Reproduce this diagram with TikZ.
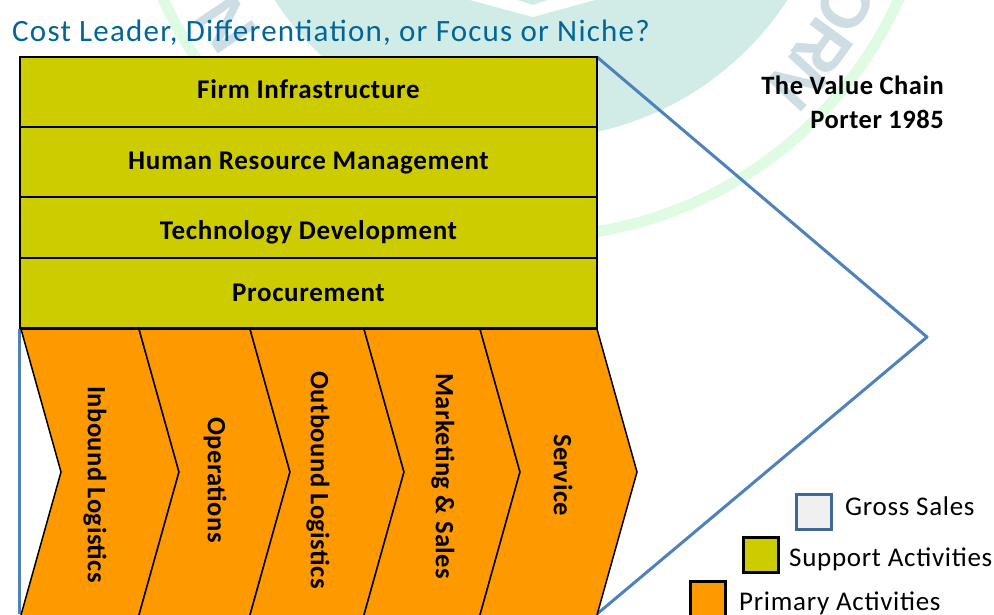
\documentclass[tikz,border=0pt]{standalone}
\usepackage{fontspec}
\setmainfont{Carlito}
\newfontfamily\wmfont{Liberation Sans}
\newfontfamily\rowfont[LetterSpace=2.5]{Carlito}
\newfontfamily\titlefont[LetterSpace=4]{Carlito}
\newfontfamily\legfont[LetterSpace=2.6]{Carlito}
\newfontfamily\chevfont[LetterSpace=1.8]{Carlito}
\newfontfamily\notefont[LetterSpace=2]{Carlito}
\definecolor{supportc}{HTML}{CCCC00}
\definecolor{primaryc}{HTML}{FF9900}
\definecolor{bluec}{HTML}{4F81BD}
\definecolor{titlec}{HTML}{006699}
\definecolor{discc}{HTML}{D1ECE7}
\definecolor{ringc}{HTML}{E0FBE3}
\definecolor{wmc}{HTML}{CDDDE3}
\tikzset{
  rowbox/.style={draw=black,line width=2.4pt,fill=supportc,minimum width=577pt,inner sep=0pt,outer sep=0pt},
  rowlabel/.style={font=\rowfont\fontsize{27}{30}\selectfont\bfseries,inner sep=0pt},
  chev/.style={draw=black,line width=1.5pt,fill=primaryc,line join=miter},
  chevlabel/.style={rotate=-90,font=\chevfont\fontsize{26.5}{30}\selectfont\bfseries,inner sep=0pt},
  valueline/.style={draw=bluec,line width=3pt},
  legendtext/.style={font=\legfont\fontsize{27}{30}\selectfont,inner sep=0pt,anchor=base west},
  notetext/.style={font=\notefont\fontsize{26.5}{30}\selectfont\bfseries,inner sep=0pt,anchor=base east},
  swatch/.style={minimum size=35pt,inner sep=0pt,outer sep=0pt,line width=3.5pt},
  wmletter/.style={text=wmc,font=\wmfont\fontsize{68}{68}\selectfont\bfseries,inner sep=0pt}
}
\begin{document}
\begin{tikzpicture}[x=1pt,y=-1pt]
\useasboundingbox (0,0) rectangle (994,614);
\begin{scope}
\clip (0,0) rectangle (994,614);
% watermark
\fill[discc] (531,-167) circle (306);
\draw[ringc,line width=11pt] (531,-166) circle (403);
\fill[white] (470,0) -- (533,17) -- (595,0) -- (548,0) -- (533,5) -- (517,0) -- cycle;
\node[wmletter,rotate=-133] (wmN) at (798,81) {N};
\node[wmletter,rotate=-126] (wmR) at (823,47) {R};
\node[wmletter,rotate=-120] (wmO) at (846,4) {O};
\node[wmletter,rotate=124] (wmL) at (226,24) {N};
% value outline
\coordinate (tr) at (597,57);
\coordinate (tip) at (927,337);
\coordinate (br) at (597,614);
\draw[valueline,line join=round] (tr) -- (tip) -- (br);
\coordinate (tl) at (19,329);
\coordinate (bl) at (19,614);
\draw[valueline] (tl) -- (bl);
% chevrons
\filldraw[chev] (21,329) -- (139,329) -- (179,472) -- (137.6,620) -- (19.6,620) -- (61,472) -- cycle;
\filldraw[chev] (139,329) -- (250,329) -- (290,472) -- (248.6,620) -- (137.6,620) -- (179,472) -- cycle;
\filldraw[chev] (250,329) -- (364,329) -- (404,472) -- (362.6,620) -- (248.6,620) -- (290,472) -- cycle;
\filldraw[chev] (364,329) -- (480,329) -- (520,472) -- (478.6,620) -- (362.6,620) -- (404,472) -- cycle;
\filldraw[chev] (480,329) -- (597,329) -- (637,472) -- (595.6,620) -- (478.6,620) -- (520,472) -- cycle;
\node[chevlabel] (inb) at (95,484.5) {Inbound Logistics};
\node[chevlabel] (ops) at (215,480) {Operations};
\node[chevlabel] (outb) at (318,480) {Outbound Logistics};
\node[chevlabel] (mkt) at (443,476) {Marketing \& Sales};
\node[chevlabel] (srv) at (563,475) {Service};
% support rows
\node[rowbox,minimum height=70pt] (firm) at (308.5,92) {};
\node[rowbox,minimum height=70pt] (hrm) at (308.5,162) {};
\node[rowbox,minimum height=61pt] (tech) at (308.5,227.5) {};
\node[rowbox,minimum height=70pt] (proc) at (308.5,293) {};
\draw[black,line width=2.9pt] (firm.north west) rectangle (proc.south east);
\node[rowlabel] (firmt) at (308.5,89) {Firm Infrastructure};
\node[rowlabel] (hrmt) at (308.5,163) {Human Resource Management};
\node[rowlabel] (techt) at (308.5,232) {Technology Development};
\node[rowlabel] (proct) at (308.5,293) {Procurement};
\end{scope}
% title
\node[anchor=base west,inner sep=0pt,text=titlec,font=\titlefont\fontsize{31}{34}\selectfont] (title) at (12,41) {Cost Leader, Differentiation, or Focus or Niche?};
\node[notetext] (vc1) at (944,94) {The Value Chain};
\node[notetext] (vc2) at (944,128) {Porter 1985};
% legend
\node[swatch,draw=bluec!80!black,fill=black!6] (lg) at (814,512) {};
\node[swatch,draw=black,fill=supportc] (ls) at (761,555) {};
\node[swatch,draw=black,fill=primaryc] (lp) at (708,599) {};
\node[legendtext] (tg) at (845,515) {Gross Sales};
\node[legendtext] (ts) at (789,566) {Support Activities};
\node[legendtext] (tp) at (739,610) {Primary Activities};
\end{tikzpicture}
\end{document}
